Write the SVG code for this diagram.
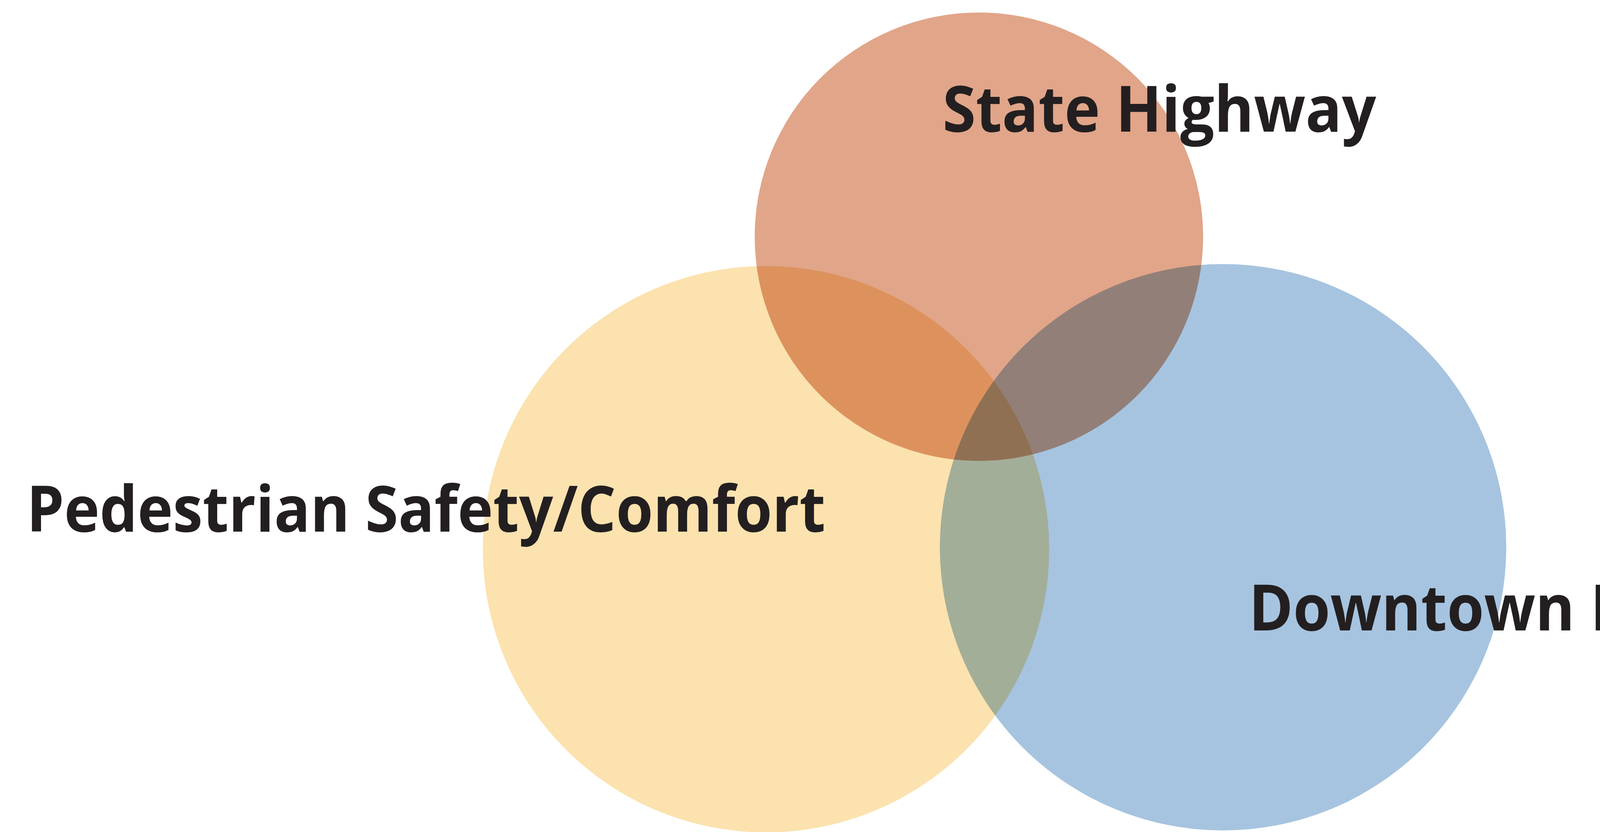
<svg xmlns="http://www.w3.org/2000/svg" width="4759" height="2130" viewBox="0 0 4759 2130">
<style>
.c{mix-blend-mode:multiply}
.t{font-family:"Open Sans","Noto Sans","Liberation Sans",sans-serif;font-weight:700;font-size:164px;fill:#231F20}
</style>
<rect x="0" y="0" width="4759" height="2130" fill="#FFFFFF"/>
<g id="circles" style="isolation:isolate">
<g id="node-state-highway-circle"><circle class="c" cx="2506" cy="606" r="574" fill="#E1A589"/></g>
<g id="node-pedestrian-circle"><circle class="c" cx="1961" cy="1406" r="725" fill="#FBE2AE"/></g>
<g id="node-downtown-circle"><circle class="c" cx="3131" cy="1401" r="725" fill="#A6C4E0"/></g>
</g>
<g id="connectors"></g>
<g id="node-state-highway"><text class="t" x="2413" y="337" textLength="1110" lengthAdjust="spacingAndGlyphs">State Highway</text></g>
<g id="node-pedestrian"><text class="t" x="68" y="1361" textLength="2045" lengthAdjust="spacingAndGlyphs">Pedestrian Safety/Comfort</text></g>
<g id="node-downtown"><text class="t" x="3197" y="1614" textLength="1545" lengthAdjust="spacingAndGlyphs">Downtown Business</text></g>
</svg>
